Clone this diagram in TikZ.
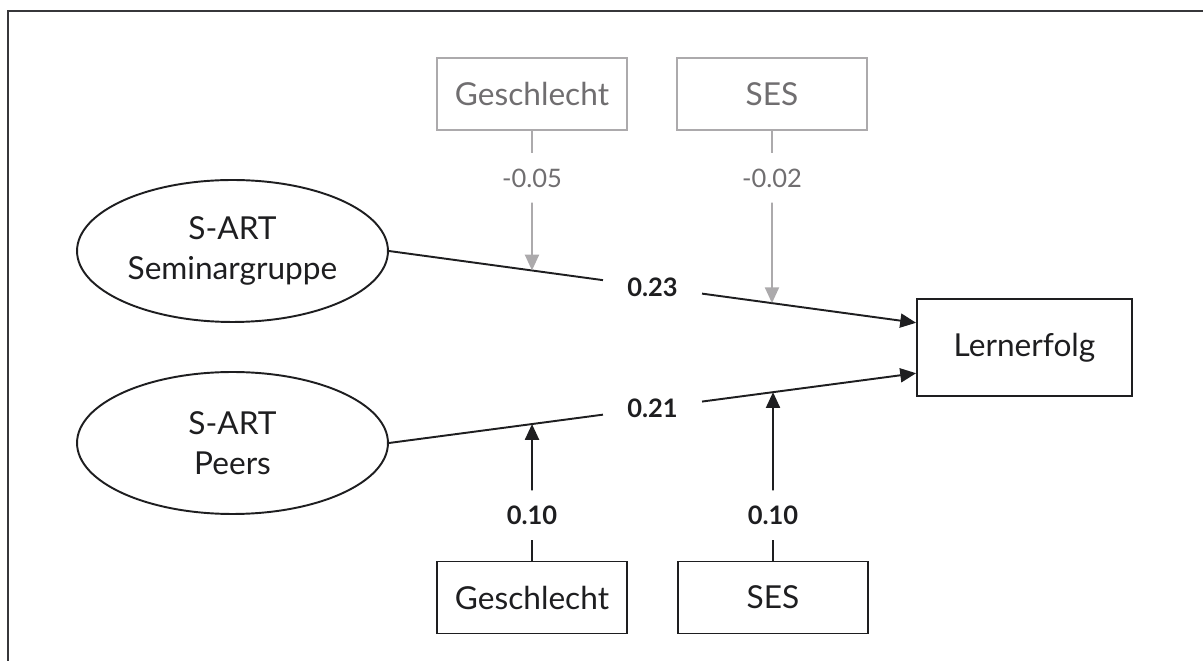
\documentclass[tikz,border=0pt]{standalone}
\usepackage{fontspec}
\setmainfont{Lato}
\usepackage{xcolor}
\usetikzlibrary{calc,positioning,shapes.geometric,arrows.meta}
\definecolor{pathdark}{RGB}{30,30,32}
\definecolor{framedark}{RGB}{55,55,58}
\definecolor{ctrlgray}{RGB}{172,170,172}
\definecolor{ctrltext}{RGB}{112,110,112}

\begin{document}
\begin{tikzpicture}[x=0.02cm, y=-0.02cm,
  latent/.style={ellipse, draw=pathdark, line width=1.1pt, minimum width=6.22cm,
    minimum height=2.84cm, inner sep=0pt, align=center, text=pathdark,
    font=\fontsize{18}{23}\selectfont},
  manifest/.style={draw=pathdark, line width=1.1pt, minimum width=3.8cm,
    minimum height=1.44cm, text=pathdark, font=\fontsize{18}{22}\selectfont},
  control/.style={manifest, draw=ctrlgray, text=ctrltext},
  coef/.style={font=\fontsize{14.5}{17}\selectfont\bfseries, text=pathdark,
    text height=10.5pt, text depth=0pt, inner xsep=0.48cm, inner ysep=0.3cm},
  ccoef/.style={coef, font=\fontsize{14.5}{17}\selectfont, text=ctrltext},
  effect/.style={draw=pathdark, line width=1.1pt},
  ctrlline/.style={draw=ctrlgray, line width=1.1pt},
  tip/.style={-{Triangle[length=9pt, width=8pt]}}
]
\useasboundingbox (0,0) rectangle (1203,661);
% open frame, cut at right and bottom
\draw[framedark, line width=1.4pt] (8,661) -- (8,11) -- (1203,11);

% predictors and outcome
\node[latent] (sem) at (232.5,251) {S-ART\\Seminargruppe};
\node[latent] (peer) at (232.5,443) {S-ART\\Peers};
\node[manifest, minimum width=4.3cm, minimum height=1.94cm] (lern) at (1024.5,347.5) {Lernerfolg};
\coordinate (lin1) at ($(lern.north west)!0.25!(lern.south west)$);
\coordinate (lin2) at ($(lern.north west)!0.76!(lern.south west)$);

% main paths, broken around the coefficient
\node[coef] (c23) at ($(sem.east)!0.5!(lin1)$) {0.23};
\node[coef] (c21) at ($(peer.east)!0.5!(lin2)$) {0.21};
\draw[effect] (sem.east) -- (c23);
\draw[effect, tip] (c23) -- (lin1);
\draw[effect] (peer.east) -- (c21);
\draw[effect, tip] (c21) -- (lin2);

% moderators on top (grey)
\node[control] (gtop) at (532,94) {Geschlecht};
\node[control] (stop) at (772,94) {SES};
\node[ccoef] (cg1) at (532,178) {-0.05};
\node[ccoef] (cs1) at (772,178) {-0.02};
\coordinate (mg1) at (intersection of sem.east--lin1 and gtop.south--cg1.south);
\coordinate (ms1) at (intersection of sem.east--lin1 and stop.south--cs1.south);
\draw[ctrlline] (gtop) -- (cg1);
\draw[ctrlline, tip] (cg1) -- (mg1);
\draw[ctrlline] (stop) -- (cs1);
\draw[ctrlline, tip] (cs1) -- (ms1);

% moderators below
\node[manifest] (gbot) at (532,597.5) {Geschlecht};
\node[manifest] (sbot) at (773,597.5) {SES};
\node[coef] (cg2) at (532,515) {0.10};
\node[coef] (cs2) at (773,515) {0.10};
\coordinate (mg2) at (intersection of peer.east--lin2 and gbot.north--cg2.north);
\coordinate (ms2) at (intersection of peer.east--lin2 and sbot.north--cs2.north);
\draw[effect] (gbot) -- (cg2);
\draw[effect, tip] (cg2) -- (mg2);
\draw[effect] (sbot) -- (cs2);
\draw[effect, tip] (cs2) -- (ms2);
\end{tikzpicture}
\end{document}
